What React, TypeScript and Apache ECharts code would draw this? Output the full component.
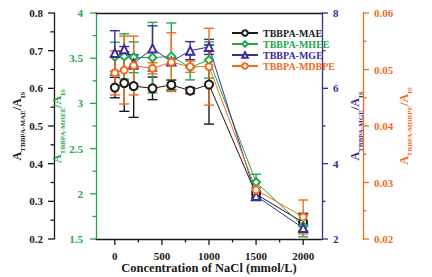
import React, { useEffect, useRef } from 'react';
import * as echarts from 'echarts';

const conc = [0, 100, 200, 400, 600, 800, 1000, 1500, 2000];
const maeVal = [0.602, 0.614, 0.606, 0.6, 0.609, 0.594, 0.61, 0.319, 0.244];
const maeErr = [0.027, 0.075, 0.083, 0.03, 0.013, 0.008, 0.105, 0.01, 0.024];
const mheeVal = [3.517, 3.52, 3.51, 3.506, 3.52, 3.4, 3.48, 2.127, 1.644];
const mheeErr = [0.16, 0.25, 0.17, 0.39, 0.37, 0.14, 0.2, 0.09, 0.12];
const mgeVal = [6.94, 7.04, 6.66, 7.06, 6.71, 7.0, 7.1, 3.14, 2.29];
const mgeErr = [0.59, 0.07, 0.15, 0.6, 0.1, 0.24, 0.2, 0.12, 0.08];
const mdbpeVal = [0.0494, 0.0499, 0.0507, 0.0502, 0.0513, 0.0505, 0.0505, 0.0287, 0.0239];
const mdbpeErr = [0.0039, 0.006, 0.0052, 0.001, 0.0052, 0.001, 0.0068, 0.0004, 0.003];

const xMajor = [0, 500, 1000, 1500, 2000];
const xMinor = [250, 750, 1250, 1750];
const maeTicks = [0.2, 0.3, 0.4, 0.5, 0.6, 0.7, 0.8];
const maeMinor = [0.25, 0.35, 0.45, 0.55, 0.65, 0.75];
const mheeTicks = [1.5, 2, 2.5, 3, 3.5, 4];
const mheeMinor = [1.75, 2.25, 2.75, 3.25, 3.75];
const mgeTicks = [2, 4, 6, 8];
const mgeMinor = [3, 5, 7];
const mdbpeTicks = [0.02, 0.03, 0.04, 0.05, 0.06];
const mdbpeMinor = [0.025, 0.035, 0.045, 0.055];

const FONT = '"Liberation Serif", "Times New Roman", serif';
const BLACK = '#1a1a1a';
const GREEN = '#22a84a';
const BLUE = '#3a2e96';
const ORANGE = '#f26b1d';

const X_MIN = -200;
const X_MAX = 2200;

const seriesDefs = [
  { name: 'TBBPA-MAE', vals: maeVal, errs: maeErr, color: BLACK, symbol: 'emptyCircle', size: 8 },
  { name: 'TBBPA-MHEE', vals: mheeVal, errs: mheeErr, color: GREEN, symbol: 'emptyDiamond', size: 8 },
  { name: 'TBBPA-MGE', vals: mgeVal, errs: mgeErr, color: BLUE, symbol: 'emptyTriangle', size: 8 },
  { name: 'TBBPA-MDBPE', vals: mdbpeVal, errs: mdbpeErr, color: ORANGE, symbol: 'emptyCircle', size: 7 },
];

const tickDefs = [
  { major: maeTicks, minor: maeMinor, side: -1, offset: 42, color: BLACK },
  { major: mheeTicks, minor: mheeMinor, side: -1, offset: 0, color: GREEN },
  { major: mgeTicks, minor: mgeMinor, side: 1, offset: 0, color: BLUE },
  { major: mdbpeTicks, minor: mdbpeMinor, side: 1, offset: 41, color: ORANGE },
];

function nameRich(color: string) {
  return {
    color,
    fontFamily: FONT,
    fontWeight: 'bold',
    fontSize: 12,
    rich: {
      a: { color, fontFamily: FONT, fontWeight: 'bold', fontSize: 12, verticalAlign: 'bottom', padding: [0, 0, 3, 0] },
      s: { color, fontFamily: FONT, fontWeight: 'bold', fontSize: 7, verticalAlign: 'bottom' },
    },
  };
}

function yAxisDef(opts: any) {
  const { color, position, offset, min, max, interval, sub, nameGap, labelMargin } = opts;
  return {
    type: 'value',
    position,
    offset,
    min,
    max,
    interval,
    name: `{a|A}{s|${sub}}{a|/A}{s|IS}`,
    nameLocation: 'middle',
    nameRotate: 90,
    nameGap,
    nameMoveOverlap: false,
    nameTextStyle: nameRich(color),
    axisLine: { show: true, onZero: false, lineStyle: { color, width: 1.3 } },
    axisTick: { show: false },
    minorTick: { show: false },
    axisLabel: { show: true, color, fontFamily: FONT, fontWeight: 'bold', fontSize: 11, margin: labelMargin },
    splitLine: { show: false },
  };
}

export default function App() {
  const ref = useRef<HTMLDivElement>(null);
  useEffect(() => {
    if (!ref.current) return;
    const chart = echarts.init(ref.current, undefined, { renderer: 'svg' });

    const lineSeries = seriesDefs.map((d, i) => ({
      name: d.name,
      type: 'line',
      xAxisIndex: 0,
      yAxisIndex: i,
      data: conc.map((c, k) => [c, d.vals[k]]),
      symbol: d.symbol,
      symbolSize: d.size,
      showAllSymbol: true,
      lineStyle: { color: d.color, width: 1 },
      itemStyle: { color: d.color, borderColor: d.color, borderWidth: 1 },
      z: 3,
    }));

    const errSeries = seriesDefs.map((d, i) => ({
      name: d.name + '-err',
      type: 'custom',
      xAxisIndex: 0,
      yAxisIndex: i,
      data: conc.map((c, k) => [c, d.vals[k] - d.errs[k], d.vals[k] + d.errs[k]]),
      encode: { x: 0, y: [1, 2] },
      z: 2,
      renderItem: (params: any, api: any) => {
        const x = api.value(0);
        const lo = api.coord([x, api.value(1)]);
        const hi = api.coord([x, api.value(2)]);
        const w = 5;
        const style = { stroke: d.color, lineWidth: 1.4 };
        return {
          type: 'group',
          children: [
            { type: 'line', shape: { x1: hi[0], y1: hi[1], x2: lo[0], y2: lo[1] }, style },
            { type: 'line', shape: { x1: hi[0] - w, y1: hi[1], x2: hi[0] + w, y2: hi[1] }, style },
            { type: 'line', shape: { x1: lo[0] - w, y1: lo[1], x2: lo[0] + w, y2: lo[1] }, style },
          ],
        };
      },
    }));

    chart.setOption({
      animation: false,
      grid: { left: 96, right: 110, top: 13, bottom: 38, containLabel: false, outerBoundsMode: 'none' },
      legend: {
        left: 226,
        top: 23,
        orient: 'vertical',
        itemWidth: 26,
        itemHeight: 7,
        itemGap: 1,
        data: seriesDefs.map((d) => ({ name: d.name, textStyle: { color: d.color } })),
        textStyle: { fontFamily: FONT, fontWeight: 'bold', fontSize: 10 },
      },
      xAxis: [
        {
          type: 'value',
          position: 'bottom',
          min: X_MIN,
          max: X_MAX,
          name: 'Concentration of NaCl (mmol/L)',
          nameLocation: 'middle',
          nameGap: 22,
          nameMoveOverlap: false,
          nameTextStyle: { color: BLACK, fontFamily: FONT, fontWeight: 'bold', fontSize: 12.5 },
          axisLine: { show: true, onZero: false, lineStyle: { color: BLACK, width: 1.3 } },
          axisTick: { show: false },
          axisLabel: { show: true, customValues: xMajor, formatter: (v: number) => String(v), color: BLACK, fontFamily: FONT, fontWeight: 'bold', fontSize: 11, margin: 11 },
          splitLine: { show: false },
        },
        {
          type: 'value',
          position: 'top',
          min: X_MIN,
          max: X_MAX,
          axisLine: { show: true, onZero: false, lineStyle: { color: BLACK, width: 1.3 } },
          axisTick: { show: false },
          axisLabel: { show: false },
          splitLine: { show: false },
        },
      ],
      yAxis: [
        yAxisDef({ color: BLACK, position: 'left', offset: 42, min: 0.2, max: 0.8, interval: 0.1, sub: 'TBBPA-MAE', nameGap: 28, labelMargin: 11 }),
        yAxisDef({ color: GREEN, position: 'left', offset: 0, min: 1.5, max: 4, interval: 0.5, sub: 'TBBPA-MHEE', nameGap: 30, labelMargin: 13 }),
        yAxisDef({ color: BLUE, position: 'right', offset: 0, min: 2, max: 8, interval: 2, sub: 'TBBPA-MGE', nameGap: 27, labelMargin: 11 }),
        yAxisDef({ color: ORANGE, position: 'right', offset: 41, min: 0.02, max: 0.06, interval: 0.01, sub: 'TBBPA-MDBPE', nameGap: 35, labelMargin: 11 }),
      ],
      series: [...errSeries, ...lineSeries],
    });

    // Ticks: positions come from the library's axis scales via convertToPixel
    const graphics: any[] = [];
    const leftX = chart.convertToPixel({ xAxisIndex: 0 }, X_MIN) as number;
    const rightX = chart.convertToPixel({ xAxisIndex: 0 }, X_MAX) as number;
    tickDefs.forEach((t, i) => {
      const base = (t.side < 0 ? leftX : rightX) + t.side * t.offset;
      const add = (v: number, len: number) => {
        const py = chart.convertToPixel({ yAxisIndex: i }, v) as number;
        if (typeof py !== 'number' || isNaN(py)) return;
        graphics.push({
          type: 'line',
          silent: true,
          z: 10,
          shape: { x1: base, y1: py, x2: base + t.side * len, y2: py },
          style: { stroke: t.color, lineWidth: 1.3 },
        });
      };
      t.major.forEach((v) => add(v, 6));
      t.minor.forEach((v) => add(v, 3.5));
    });
    const bottomY = chart.convertToPixel({ yAxisIndex: 0 }, maeTicks[0]) as number;
    const addX = (v: number, len: number) => {
      const px = chart.convertToPixel({ xAxisIndex: 0 }, v) as number;
      if (typeof px !== 'number' || isNaN(px)) return;
      graphics.push({
        type: 'line',
        silent: true,
        z: 10,
        shape: { x1: px, y1: bottomY, x2: px, y2: bottomY + len },
        style: { stroke: BLACK, lineWidth: 1.3 },
      });
    };
    xMajor.forEach((v) => addX(v, 6));
    xMinor.forEach((v) => addX(v, 3.5));
    chart.setOption({ graphic: graphics });

    return () => chart.dispose();
  }, []);

  return <div ref={ref} style={{ width: 432, height: 277, position: 'absolute', left: 0, top: 0 }} />;
}
